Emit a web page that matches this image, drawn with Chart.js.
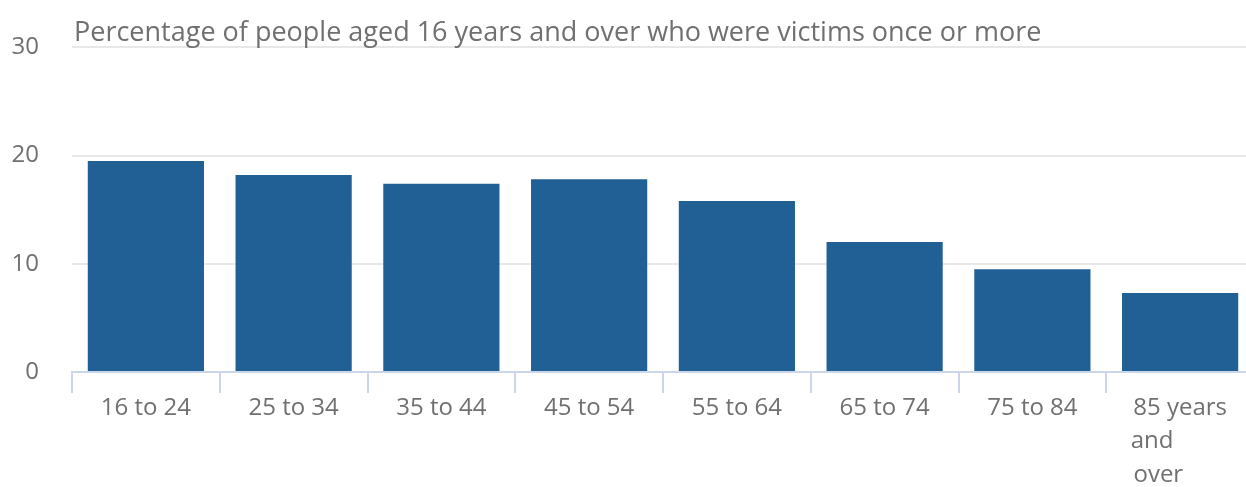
<!DOCTYPE html>
<html>
<head>
<meta charset="utf-8">
<script src="https://cdn.jsdelivr.net/npm/chart.js@4/dist/chart.umd.min.js"></script>
<style>
  html, body { margin: 0; padding: 0; background: #fff; overflow: hidden; }
  #wrap { width: 1254px; height: 487px; }
</style>
</head>
<body>
<div id="wrap"><canvas id="c" width="1254" height="487"></canvas></div>
<script>
const titleText = 'Percentage of people aged 16 years and over who were victims once or more';
const categories = ['16 to 24', '25 to 34', '35 to 44', '45 to 54', '55 to 64', '65 to 74', '75 to 84', ['85 years', 'and         ', 'over       ']];
const values = [19.6, 18.3, 17.5, 17.9, 15.9, 12.1, 9.6, 7.4];
const yTicks = [0, 10, 20, 30];

const FONT = "'Open Sans', 'Noto Sans', sans-serif";
const TEXT = '#707070';

const titlePlugin = {
  id: 'topTitle',
  afterDraw(chart) {
    const ctx = chart.ctx;
    ctx.save();
    ctx.font = "27px " + FONT;
    ctx.fillStyle = TEXT;
    ctx.textAlign = 'left';
    ctx.textBaseline = 'alphabetic';
    ctx.fillText(titleText, chart.chartArea.left + 2, chart.chartArea.top - 6);
    ctx.restore();
  }
};

new Chart(document.getElementById('c'), {
  type: 'bar',
  data: {
    labels: categories,
    datasets: [{
      data: values,
      backgroundColor: '#206095',
      borderColor: 'rgba(255,255,255,0.25)',
      borderWidth: 1,
      barPercentage: 0.8,
      categoryPercentage: 1.0
    }]
  },
  options: {
    responsive: false,
    animation: false,
    layout: { padding: { top: 43, left: 0, right: 0, bottom: 0 } },
    plugins: { legend: { display: false }, tooltip: { enabled: false }, title: { display: false } },
    scales: {
      x: {
        grid: { display: true, offset: true, drawOnChartArea: false, drawTicks: true, tickLength: 21, color: '#ccd6eb', lineWidth: 2 },
        border: { display: true, color: '#ccd6eb', width: 2 },
        ticks: { color: TEXT, font: { family: FONT, size: 24, lineHeight: 1.4 }, padding: -2, maxRotation: 0, autoSkip: false },
        afterFit(scale) { scale.height = 115; }
      },
      y: {
        min: 0, max: 30,
        afterBuildTicks(scale) { scale.ticks = yTicks.map(v => ({ value: v })); },
        grid: { color: '#e8e8e8', lineWidth: 2, drawTicks: false },
        border: { display: false },
        ticks: { color: TEXT, font: { family: FONT, size: 24 }, padding: 33 },
        afterFit(scale) { scale.width = 72; }
      }
    }
  },
  plugins: [titlePlugin]
});
</script>
</body>
</html>
